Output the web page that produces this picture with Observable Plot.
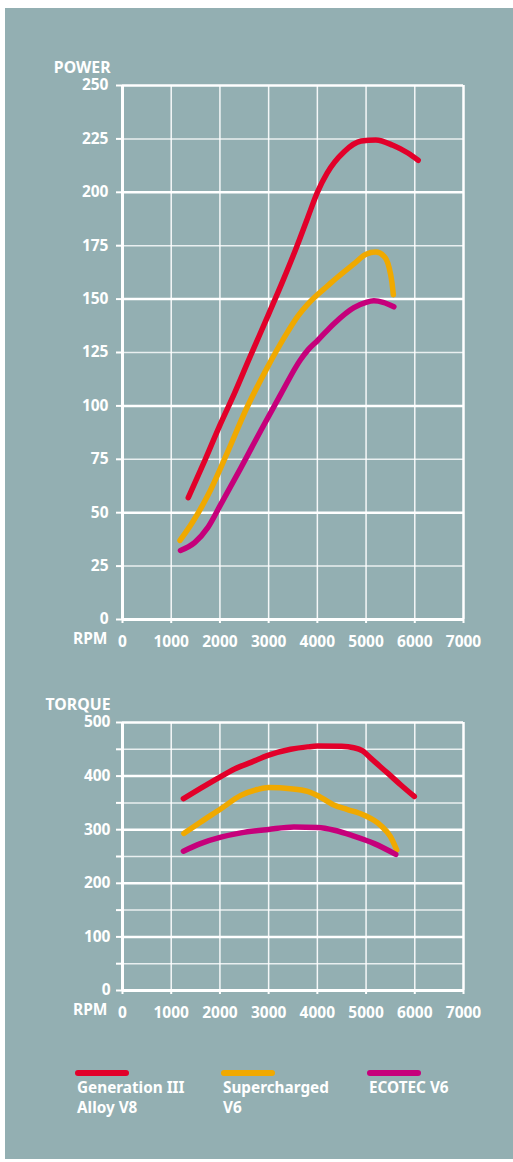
<!DOCTYPE html>
<html>
<head>
<meta charset="utf-8">
<script src="https://cdn.jsdelivr.net/npm/d3@7"></script>
<script src="https://cdn.jsdelivr.net/npm/@observablehq/plot@0.6"></script>
<style>
  html, body { margin: 0; padding: 0; background: #ffffff; }
  #page { position: relative; width: 513px; height: 1162px; overflow: hidden; font-family: 'Noto Sans', sans-serif; font-weight: 700; color: #fff; }
  #bg { position: absolute; left: 5px; top: 8px; width: 508px; height: 1151px; background: #93afb2; }
  .chart { position: absolute; left: 0; }
  .chart svg text { font-weight: 700; font-family: 'Noto Sans', sans-serif; }
  .legend-item { position: absolute; top: 1070px; }
  .legend-line { width: 54px; height: 5.5px; border-radius: 3px; }
  .legend-text { position: absolute; left: 2px; top: 7px; font-size: 15.3px; line-height: 20px; white-space: nowrap; }
</style>
</head>
<body>
<div id="page">
  <div id="bg"></div>
  <div id="power" class="chart" style="top:0px"></div>
  <div id="torque" class="chart" style="top:680px"></div>
  <div id="legend"></div>
</div>
<script>
// ---- Data ----
const seriesNames = ["Generation III Alloy V8", "Supercharged V6", "ECOTEC V6"];
const seriesLegend = [["Generation III", "Alloy V8"], ["Supercharged", "V6"], ["ECOTEC V6"]];
const seriesColors = ["#e2002a", "#f0a900", "#c6007b"];

const rpmTicks = [0, 1000, 2000, 3000, 4000, 5000, 6000, 7000];
const powerTicks = [0, 25, 50, 75, 100, 125, 150, 175, 200, 225, 250];
const torqueTicks = [0, 50, 100, 150, 200, 250, 300, 350, 400, 450, 500];

// Power vs RPM
const powerV8Rpm = [1350, 1700, 2000, 2300, 2600, 3000, 3300, 3550, 3800, 4000, 4200, 4550, 4900, 5200, 5550, 5850, 6070];
const powerV8Val = [57, 75, 91, 106, 122, 143, 159, 173, 188, 200, 209, 219, 224, 224.5, 222, 218.5, 215];

const powerSCRpm = [1180, 1450, 1750, 2150, 2550, 2950, 3400, 3600, 3800, 4000, 4200, 4400, 4750, 5000, 5200, 5370, 5470, 5530, 5560];
const powerSCVal = [37, 46, 58, 78, 99, 117, 135, 142, 147.5, 152, 156, 160, 166.5, 171, 172, 170, 165, 158, 152];

const powerEcoRpm = [1190, 1480, 1750, 2020, 2430, 2840, 3250, 3650, 3800, 4000, 4340, 4750, 5000, 5160, 5350, 5570];
const powerEcoVal = [32.3, 36, 43, 54, 71, 88.5, 105.5, 121.5, 126, 130.5, 138.5, 146, 148.5, 149.2, 148.5, 146.4];

// Torque vs RPM
const torqueV8Rpm = [1250, 1600, 2000, 2250, 2650, 3000, 3450, 3800, 4000, 4500, 4750, 4930, 5100, 5450, 5720, 5990];
const torqueV8Val = [358, 377, 398, 411, 426, 439, 450, 454.5, 456, 455.5, 453, 447, 433, 405, 383, 362];

const torqueSCRpm = [1260, 1600, 2020, 2430, 2770, 3000, 3450, 3800, 4000, 4350, 4620, 4960, 5300, 5500, 5630];
const torqueSCVal = [293, 314, 339, 364, 375, 378.5, 376.5, 371.5, 364, 345.5, 337.5, 327, 308, 287, 262];

const torqueEcoRpm = [1250, 1600, 2020, 2430, 3000, 3520, 4000, 4350, 4750, 5170, 5610];
const torqueEcoVal = [260, 274, 286, 294, 300.5, 305, 304, 299, 288, 274, 254];

// ---- Build tables ----
function table(rpms, vals, name) { return rpms.map((r, i) => ({rpm: r, value: vals[i], series: name})); }
const powerData = [
  table(powerV8Rpm, powerV8Val, seriesNames[0]),
  table(powerSCRpm, powerSCVal, seriesNames[1]),
  table(powerEcoRpm, powerEcoVal, seriesNames[2])
];
const torqueData = [
  table(torqueV8Rpm, torqueV8Val, seriesNames[0]),
  table(torqueSCRpm, torqueSCVal, seriesNames[1]),
  table(torqueEcoRpm, torqueEcoVal, seriesNames[2])
];

const style = {background: "transparent", color: "#ffffff", fontFamily: "'Noto Sans', sans-serif", fontSize: "15.5px", fontWeight: "700", overflow: "visible"};

function makeChart({data, yTicks, yMax, majorStep, labelStep, height, marginTop, marginBottom, yTitle, tickPad}) {
  const inner = rpmTicks.filter(d => d > 0 && d < 7000);
  const majors = yTicks.filter(d => d % majorStep === 0);
  const minors = yTicks.filter(d => d % majorStep !== 0);
  return Plot.plot({
    width: 513, height, marginLeft: 122, marginRight: 50, marginTop, marginBottom,
    style,
    x: {domain: [0, 7000]},
    y: {domain: [0, yMax]},
    marks: [
      Plot.ruleY(minors, {stroke: "#ffffff", strokeOpacity: 0.8, strokeWidth: 1.5}),
      Plot.ruleY(majors, {stroke: "#ffffff", strokeWidth: 2.5}),
      Plot.ruleX(inner, {stroke: "#ffffff", strokeOpacity: 0.9, strokeWidth: 1.5}),
      Plot.ruleX([7000], {stroke: "#ffffff", strokeWidth: 2.5}),
      Plot.axisY({ticks: yTicks, tickSize: 6, tickPadding: tickPad, label: null, stroke: "#ffffff", strokeWidth: 2,
                  fontSize: 15.5, fontWeight: 700, fill: "#ffffff",
                  tickFormat: d => d % labelStep === 0 ? String(d) : ""}),
      Plot.axisX({ticks: rpmTicks, tickSize: 4, tickPadding: 12, label: null, stroke: "#ffffff", strokeWidth: 2,
                  fontSize: 15.5, fontWeight: 700, fill: "#ffffff",
                  tickFormat: d => String(d)}),
      Plot.ruleX([0], {stroke: "#ffffff", strokeWidth: 3}),
      Plot.ruleY([0], {stroke: "#ffffff", strokeWidth: 3}),
      ...data.map((s, i) => Plot.line(s, {x: "rpm", y: "value", stroke: seriesColors[i], strokeWidth: 5.5,
                  strokeLinecap: "round", strokeLinejoin: "round", curve: "monotone-x"})),
      Plot.text([yTitle], {frameAnchor: "top-left", text: d => d, dx: -12, dy: -24, textAnchor: "end", fill: "#ffffff", fontSize: 15.8, fontWeight: 700}),
      Plot.text(["RPM"], {frameAnchor: "bottom-left", text: d => d, dx: -15, dy: 24.5, textAnchor: "end", fill: "#ffffff", fontSize: 15.5, fontWeight: 700})
    ]
  });
}

document.getElementById("power").appendChild(makeChart({
  data: powerData, yTicks: powerTicks, yMax: 250, majorStep: 50, labelStep: 25,
  height: 660, marginTop: 85, marginBottom: 41, yTitle: "POWER", tickPad: 8
}));
document.getElementById("torque").appendChild(makeChart({
  data: torqueData, yTicks: torqueTicks, yMax: 500, majorStep: 100, labelStep: 100,
  height: 360, marginTop: 42, marginBottom: 50, yTitle: "TORQUE", tickPad: 6
}));

// ---- Legend ----
const legendLeft = [75, 221, 367];
const legend = document.getElementById("legend");
seriesNames.forEach((name, i) => {
  const item = document.createElement("div");
  item.className = "legend-item";
  item.style.left = legendLeft[i] + "px";
  const line = document.createElement("div");
  line.className = "legend-line";
  line.style.background = seriesColors[i];
  const text = document.createElement("div");
  text.className = "legend-text";
  text.innerHTML = seriesLegend[i].join("<br>");
  item.appendChild(line);
  item.appendChild(text);
  legend.appendChild(item);
});
</script>
</body>
</html>
